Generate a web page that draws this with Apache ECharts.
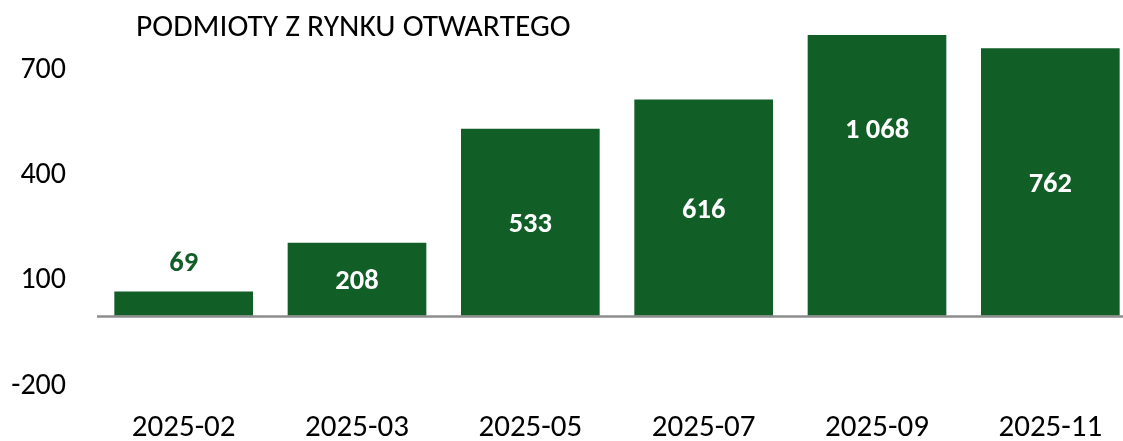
<!DOCTYPE html>
<html>
<head>
<meta charset="utf-8">
<script src="https://cdn.jsdelivr.net/npm/echarts@6/dist/echarts.min.js"></script>
<style>
html,body{margin:0;padding:0;background:#fff;}
#chart{width:1123px;height:441px;}
</style>
</head>
<body>
<div id="chart"></div>
<script>
// ---- data ----
const title = 'PODMIOTY Z RYNKU OTWARTEGO';
const categories = ['2025-02', '2025-03', '2025-05', '2025-07', '2025-09', '2025-11'];
const values = [69, 208, 533, 616, 1068, 762];
const yTickLabels = [-200, 100, 400, 700];

// ---- style ----
const GREEN = '#115E27';
const FONT = 'Carlito, Calibri, "Liberation Sans", Arial, sans-serif';

function fmt(v) {
  return String(v).replace(/\B(?=(\d{3})+(?!\d))/g, ' ');
}

const labelData = values.map(v => v < 150
  ? { value: v, label: { position: 'top', distance: 16, color: GREEN } }
  : v);

const chart = echarts.init(document.getElementById('chart'), null, { renderer: 'canvas' });
chart.setOption({
  animation: false,
  backgroundColor: '#ffffff',
  title: {
    text: title,
    left: 131,
    top: 7,
    textStyle: { fontFamily: FONT, fontSize: 31.5, fontWeight: 'normal', color: '#000' }
  },
  grid: { left: 97, right: -14, top: 35, bottom: 55, containLabel: false, outerBoundsMode: 'none' },
  xAxis: {
    type: 'category',
    data: categories,
    position: 'bottom',
    axisLine: { show: false, onZero: false },
    axisTick: { show: false },
    axisLabel: { fontFamily: FONT, fontSize: 31, color: '#000', margin: 27 }
  },
  yAxis: {
    type: 'value',
    min: -200,
    max: 800,
    interval: 300,
    splitLine: { show: false },
    axisLine: { show: false },
    axisTick: { show: false },
    axisLabel: {
      fontFamily: FONT, fontSize: 30, color: '#000', margin: 31,
      showMaxLabel: false,
      formatter: v => yTickLabels.includes(v) ? String(v) : ''
    }
  },
  series: [
    {
      type: 'bar',
      data: values,
      barCategoryGap: '20%',
      clip: true,
      itemStyle: { color: GREEN },
      label: { show: false },
      markLine: {
        silent: true,
        symbol: 'none',
        label: { show: false },
        lineStyle: { color: '#8c8c8c', width: 2.5, type: 'solid' },
        data: [{ yAxis: 0 }]
      }
    },
    {
      type: 'bar',
      data: labelData,
      barGap: '-100%',
      barCategoryGap: '20%',
      clip: false,
      z: 5,
      itemStyle: { color: 'rgba(0,0,0,0)' },
      label: {
        show: true,
        position: 'inside',
        offset: [0, 3],
        color: '#fff',
        fontFamily: FONT,
        fontSize: 28.5,
        fontWeight: 'bold',
        formatter: p => fmt(p.value)
      }
    }
  ]
});
</script>
</body>
</html>
